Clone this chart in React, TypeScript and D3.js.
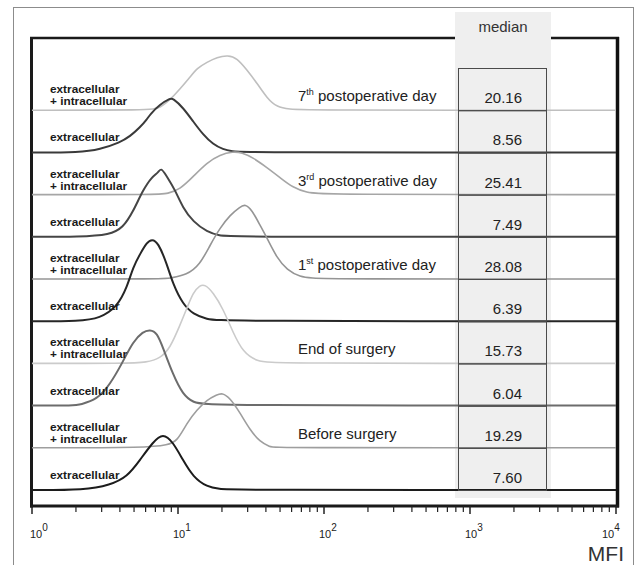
import React from "react";
import * as d3 from "d3";

// MFI histograms, [MFI, count], top row first
const day7Total = [[6.43,0],[7.53,2],[9.24,13],[12.1,33],[13.5,42],[15.8,48],[18.5,53],[22.0,55],[25.4,52],[29.7,40],[34.8,27],[40.7,12],[47.6,3],[58.5,1],[71.8,0]];
const day7Ext = [[2.13,0],[2.92,3],[4.01,10],[4.69,16],[5.49,25],[6.13,33],[6.43,38],[7.53,48],[8.81,54],[9.24,54],[10.8,45],[12.7,31],[14.8,18],[17.4,8],[20.3,3],[23.8,1],[26.6,0]];
const day3Total = [[7.53,0],[8.41,1],[10.3,5],[12.7,18],[15.8,32],[19.4,40],[23.8,43],[27.4,42],[32.6,37],[40.7,27],[50.0,17],[61.3,7],[76.5,2],[93.9,0]];
const day3Ext = [[2.13,0],[3.42,2],[4.20,9],[4.92,25],[5.76,47],[6.63,60],[7.30,64],[7.65,69],[8.15,63],[8.41,60],[9.54,47],[10.8,29],[12.7,15],[15.8,5],[19.4,1],[22.7,0]];
const day1Total = [[8.15,0],[8.81,1],[11.5,4],[14.1,14],[16.6,34],[19.4,51],[22.7,64],[26.6,72],[28.8,75],[32.1,69],[36.4,54],[40.7,41],[47.6,21],[55.8,9],[68.5,2],[84.1,1],[101.6,0]];
const day1Ext = [[2.13,0],[2.92,3],[3.82,14],[4.48,34],[4.92,54],[5.49,67],[6.13,79],[6.63,82],[7.30,79],[8.41,57],[9.24,37],[10.8,17],[12.7,7],[15.8,2],[19.4,0]];
const endTotal = [[4.48,0],[6.13,1],[7.53,5],[8.81,15],[10.3,38],[11.5,55],[12.7,71],[14.1,78],[15.3,79],[17.4,71],[20.3,55],[23.8,31],[27.9,11],[34.8,2],[44.7,0]];
const endExt = [[1.97,0],[2.13,1],[2.79,6],[3.42,21],[4.20,44],[4.92,64],[5.76,74],[6.43,76],[7.18,73],[7.89,58],[9.24,31],[10.8,11],[12.7,3],[15.8,0]];
const beforeTotal = [[6.43,0],[8.41,3],[9.84,6],[11.5,25],[13.5,38],[15.8,48],[18.5,53],[20.0,55],[22.7,50],[26.6,35],[31.1,18],[36.4,6],[42.7,1],[46.2,0]];
const beforeExt = [[2.31,0],[3.42,5],[4.48,13],[5.49,30],[6.74,48],[7.89,57],[9.24,48],[10.8,30],[12.7,13],[15.8,3],[19.4,1],[22.7,0]];

const histograms = [day7Total, day7Ext, day3Total, day3Ext, day1Total, day1Ext, endTotal, endExt, beforeTotal, beforeExt];
const rowColors = ["#bfbfbf", "#3a3a3a", "#a6a6a6", "#454545", "#959595", "#262626", "#cbcbcb", "#6c6c6c", "#9e9e9e", "#1c1c1c"];
const medians = [20.16, 8.56, 25.41, 7.49, 28.08, 6.39, 15.73, 6.04, 19.29, 7.60];

const labelPre = ["7", "3", "1", "End of surgery", "Before surgery"];
const labelSup = ["th", "rd", "st", "", ""];
const labelPost = [" postoperative day", " postoperative day", " postoperative day", "", ""];

const decades = [1, 10, 100, 1000, 10000];
const font = "'Liberation Sans', Arial, sans-serif";

export default function App() {
  const x = d3.scaleLog().domain([1, 10000]).range([32, 616]);
  const rows = d3.range(histograms.length);
  const y = d3.scaleBand<number>().domain(rows).range([68, 490]).padding(0);
  const bw = y.bandwidth();
  const count = d3.scaleLinear().domain([0, 84.4]).range([0, 2 * bw]);

  const minor: number[] = [];
  decades.slice(0, -1).forEach((d) => {
    for (let k = 2; k < 10; k++) minor.push(d * k);
  });

  const pathFor = (data: number[][], i: number) => {
    const base = (y(i) as number) + bw;
    const pts = [[1, 0], ...data, [10000, 0]];
    return d3
      .line<number[]>()
      .x((d) => x(d[0]))
      .y((d) => base - count(d[1]))
      .curve(d3.curveBasis)(pts) as string;
  };

  return (
    <svg width={638} height={565} style={{ position: "absolute", left: 0, top: 0, background: "#fff" }} fontFamily={font}>
      <rect x={13.5} y={7.5} width={620} height={600} fill="none" stroke="#8c8c8c" strokeWidth={1} />

      {/* plot frame */}
      <line x1={30} x2={619} y1={38} y2={38} stroke="#1a1a1a" strokeWidth={2.5} />
      <line x1={31.5} x2={31.5} y1={37} y2={507.5} stroke="#1a1a1a" strokeWidth={3} />
      <line x1={617.5} x2={617.5} y1={37} y2={507.5} stroke="#111" strokeWidth={3.5} />
      <line x1={30} x2={619} y1={506} y2={506} stroke="#1a1a1a" strokeWidth={3} />

      {/* median column */}
      <rect x={455} y={12} width={96} height={486} fill="#efefef" />
      <text x={503} y={32} fontSize={15} textAnchor="middle" fill="#333">median</text>

      {histograms.map((h, i) => (
        <path key={i} d={pathFor(h, i)} fill="none" stroke={rowColors[i]}
          strokeWidth={i % 2 === 0 ? 1.6 : 2} strokeLinejoin="round" />
      ))}

      {rows.map((i) => (
        <g key={i}>
          <rect x={458.5} y={(y(i) as number) + 0.5} width={88} height={bw} fill="none" stroke="#4a4a4a" strokeWidth={1} />
          <text x={522} y={(y(i) as number) + bw - 7} fontSize={15} textAnchor="end" fill="#222">
            {medians[i].toFixed(2)}
          </text>
        </g>
      ))}

      {/* left labels */}
      {rows.map((i) => {
        const base = (y(i) as number) + bw;
        return i % 2 === 0 ? (
          <g key={i} fontSize={11.8} fontWeight="bold" fill="#1a1a1a">
            <text x={50} y={base - 17}>extracellular</text>
            <text x={50} y={base - 5}>+ intracellular</text>
          </g>
        ) : (
          <text key={i} x={50} y={base - 11} fontSize={11.8} fontWeight="bold" fill="#1a1a1a">extracellular</text>
        );
      })}

      {/* time point labels */}
      {labelPre.map((p, j) => {
        const base = (y(j * 2) as number) + bw;
        return (
          <text key={j} x={298} y={base - 9} fontSize={15} fill="#222">
            {p}
            {labelSup[j] && <tspan fontSize={9} dy={-6}>{labelSup[j]}</tspan>}
            {labelPost[j] && <tspan dy={6}>{labelPost[j]}</tspan>}
          </text>
        );
      })}

      {/* x axis ticks */}
      {decades.map((d) => (
        <line key={"M" + d} x1={x(d)} x2={x(d)} y1={506} y2={514} stroke="#222" strokeWidth={1.5} />
      ))}
      {minor.map((d) => (
        <line key={"m" + d} x1={x(d)} x2={x(d)} y1={506} y2={512} stroke="#222" strokeWidth={1.2} />
      ))}
      {decades.map((d, k) => {
        const anchor = k === 0 ? -2 : k === decades.length - 1 ? -14 : -5;
        return (
          <text key={"t" + d} x={x(d) + anchor} y={538} fontSize={11} fill="#222">
            10<tspan fontSize={10} dy={-7}>{k}</tspan>
          </text>
        );
      })}
      <text x={624} y={561} fontSize={21} textAnchor="end" fill="#333">MFI</text>
    </svg>
  );
}
